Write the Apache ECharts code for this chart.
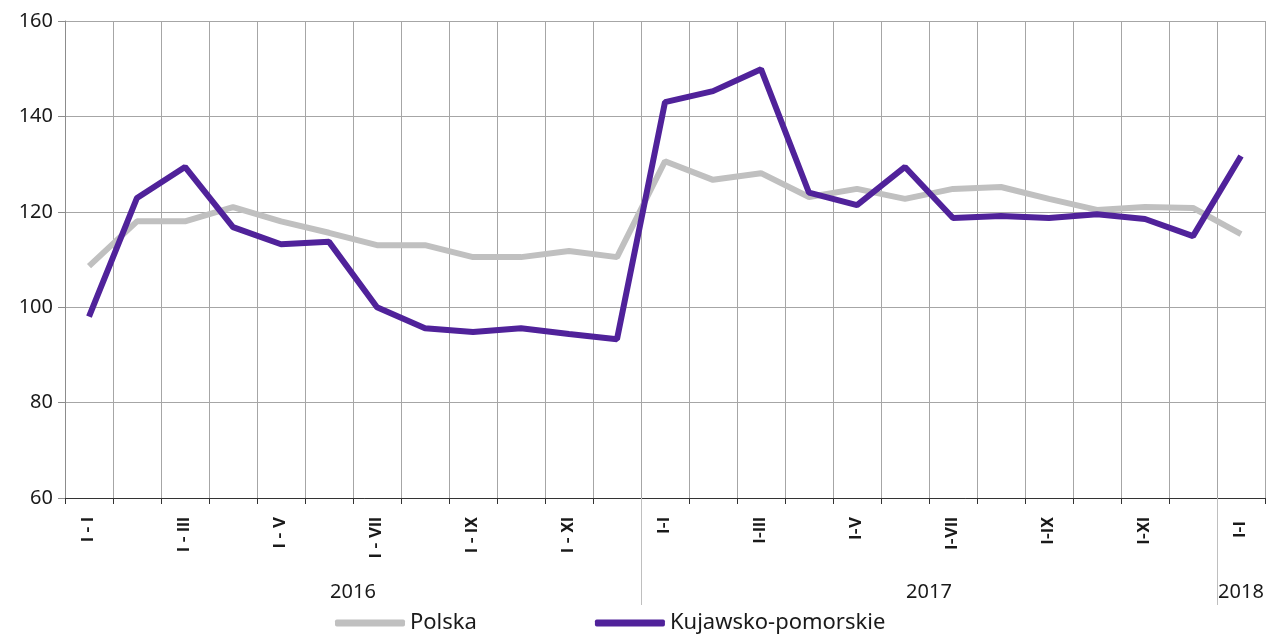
<!DOCTYPE html>
<html>
<head>
<meta charset="utf-8">
<script src="https://cdn.jsdelivr.net/npm/echarts@6/dist/echarts.min.js"></script>
<style>
  html, body { margin: 0; padding: 0; background: #fff; }
  #chart { width: 1277px; height: 639px; }
</style>
</head>
<body>
<div id="chart"></div>
<script>
const months = ['I - I', 'I - II', 'I - III', 'I - IV', 'I - V', 'I - VI', 'I - VII', 'I - VIII', 'I - IX', 'I - X', 'I - XI', 'I - XII',
  'I-I', 'I-II', 'I-III', 'I-IV', 'I-V', 'I-VI', 'I-VII', 'I-VIII', 'I-IX', 'I-X', 'I-XI', 'I-XII',
  'I-I '];
const polska = [108.6, 118, 118, 121, 118, 115.6, 113, 113, 110.5, 110.5, 111.8, 110.5,
  130.6, 126.7, 128.1, 123.1, 124.8, 122.7, 124.8, 125.2, 122.7, 120.4, 121, 120.8, 115.3];
const kujawsko = [98, 122.9, 129.4, 116.8, 113.2, 113.7, 100, 95.6, 94.8, 95.6, 94.4, 93.3,
  143, 145.3, 149.9, 124, 121.4, 129.4, 118.7, 119.1, 118.7, 119.5, 118.5, 114.9, 131.7];
const years = ['2016', '2017', '2018'];
const yearCenters = [6, 18, 24.5];
const yearBounds = [12, 24];

const font = '"Noto Sans", sans-serif';
const chart = echarts.init(document.getElementById('chart'));
chart.setOption({
  animation: false,
  textStyle: {fontFamily: font},
  grid: {left: 65, right: 12, top: 21, bottom: 141},
  legend: {
    bottom: 0,
    left: 330,
    itemWidth: 70,
    itemHeight: 7,
    itemGap: 118,
    icon: 'roundRect',
    textStyle: {fontSize: 22, color: '#1a1a1a', fontFamily: font},
    data: ['Polska', 'Kujawsko-pomorskie']
  },
  xAxis: [{
    type: 'category',
    data: months,
    boundaryGap: true,
    axisLine: {lineStyle: {color: '#333', width: 1}},
    axisTick: {show: true, interval: 0, length: 6, lineStyle: {color: '#333'}},
    axisLabel: {
      interval: 1,
      rotate: 90,
      margin: 19,
      fontSize: 17,
      fontWeight: 'bold',
      fontFamily: 'Roboto, sans-serif',
      color: '#1a1a1a'
    },
    splitLine: {show: true, interval: 0, lineStyle: {color: '#a6a6a6', width: 1}}
  }, {
    type: 'value',
    min: 0,
    max: 25,
    position: 'bottom',
    axisLine: {show: false},
    splitLine: {show: false},
    axisTick: {show: true, customValues: yearBounds, length: 107, lineStyle: {color: '#bfbfbf'}},
    axisLabel: {
      customValues: yearCenters,
      margin: 84,
      fontSize: 20,
      color: '#1a1a1a',
      formatter: function (v) {
        return years[yearCenters.indexOf(v)];
      }
    }
  }],
  yAxis: {
    type: 'value',
    min: 60,
    max: 160,
    interval: 20,
    axisLine: {show: true, lineStyle: {color: '#8c8c8c'}},
    axisTick: {show: true, length: 7, lineStyle: {color: '#8c8c8c'}},
    axisLabel: {fontSize: 20, color: '#1a1a1a', margin: 12},
    splitLine: {lineStyle: {color: '#a6a6a6', width: 1}}
  },
  series: [{
    name: 'Polska',
    type: 'line',
    data: polska,
    symbol: 'none',
    lineStyle: {color: '#c0c0c0', width: 6},
    itemStyle: {color: '#c0c0c0'}
  }, {
    name: 'Kujawsko-pomorskie',
    type: 'line',
    data: kujawsko,
    symbol: 'none',
    lineStyle: {color: '#50229a', width: 6},
    itemStyle: {color: '#50229a'}
  }]
});
</script>
</body>
</html>
